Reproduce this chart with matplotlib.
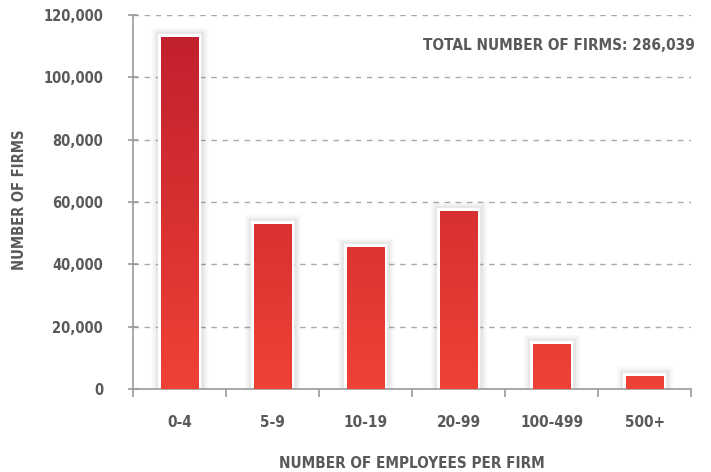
import numpy as np
import matplotlib.pyplot as plt
import matplotlib.patheffects as pe
from matplotlib.colors import LinearSegmentedColormap
from matplotlib.ticker import FuncFormatter

plt.rcParams['font.family'] = ['DejaVu Sans']
plt.rcParams['font.stretch'] = 'condensed'
plt.rcParams['font.weight'] = 'bold'

# Data
categories = ["0-4", "5-9", "10-19", "20-99", "100-499", "500+"]
firms = [113000, 53000, 45700, 57000, 14500, 4200]
total_label = "TOTAL NUMBER OF FIRMS: 286,039"

text_col = "#58595b"
axis_col = "#9a9a9a"

fig = plt.figure(figsize=(7.11, 4.72), dpi=100)
ax = fig.add_axes([0.187, 0.176, 0.785, 0.792])

x = np.arange(len(categories))
# white frame with a soft shadow around it
glow = [pe.Stroke(linewidth=14, foreground="black", alpha=0.025),
        pe.Stroke(linewidth=11, foreground="black", alpha=0.03),
        pe.Stroke(linewidth=8, foreground="black", alpha=0.045),
        pe.Normal()]
bars = ax.bar(x, firms, width=0.40, color="white", edgecolor="white", linewidth=4.5,
              zorder=2, path_effects=glow)

# vertical red gradient clipped to each bar
cmap = LinearSegmentedColormap.from_list("reds", ["#ef4136", "#be1e2d"])
grad = np.linspace(0, 1, 256).reshape(-1, 1)
for b in bars:
    im = ax.imshow(grad, cmap=cmap, aspect="auto", origin="lower",
                   extent=[-0.5, 5.5, 0, 120000], zorder=3)
    im.set_clip_path(b)

ax.set_xlim(-0.5, 5.5)
ax.set_ylim(0, 120000)
ax.set_yticks(np.arange(0, 120001, 20000))
ax.yaxis.set_major_formatter(FuncFormatter(lambda v, p: f"{int(v):,}"))
ax.set_xticks(x)
ax.set_xticklabels(categories)
ax.set_xticks(np.arange(-0.5, 5.6, 1), minor=True)
ax.tick_params(axis="x", which="major", length=0, pad=19, labelsize=11, labelcolor=text_col)
ax.tick_params(axis="x", which="minor", length=6, direction="out", color=axis_col, width=1.2)
ax.tick_params(axis="y", length=7, direction="inout", color=axis_col, width=1.2, pad=18,
               labelsize=10.5, labelcolor=text_col)

for s in ["top", "right"]:
    ax.spines[s].set_visible(False)
for s in ["left", "bottom"]:
    ax.spines[s].set_color(axis_col)
    ax.spines[s].set_linewidth(1.2)

ax.yaxis.grid(True, linestyle=(0, (4, 4)), color="#aaaaaa", linewidth=1)
ax.set_axisbelow(True)

fig.text(412 / 711, 1 - 464 / 472, "NUMBER OF EMPLOYEES PER FIRM", ha="center", va="center",
         fontsize=11, color=text_col, fontweight="bold")
fig.text(20 / 711, 1 - 200 / 472, "NUMBER OF FIRMS", ha="center", va="center", rotation=90,
         fontsize=10.5, color=text_col, fontweight="bold")
fig.text(695 / 711, 1 - 45 / 472, total_label, ha="right", va="center",
         fontsize=11, color=text_col, fontweight="bold")

fig.savefig("out.png", dpi=100)
